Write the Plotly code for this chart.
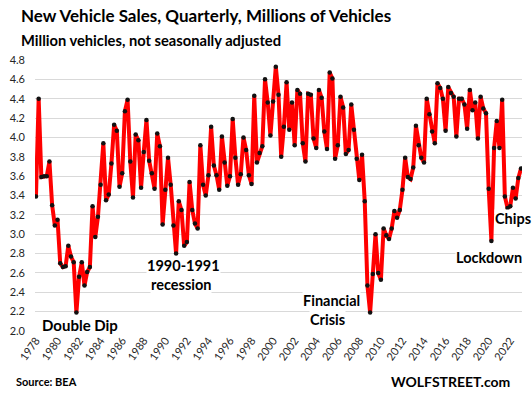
import plotly.graph_objects as go

start_year = 1978
sales = [
    3.39, 4.40, 3.59, 3.60, 3.60, 3.75, 3.30, 3.09, 3.15, 2.70,
    2.66, 2.67, 2.88, 2.77, 2.71, 2.19, 2.56, 2.71, 2.47, 2.61,
    2.66, 3.29, 2.97, 3.18, 3.51, 3.94, 3.35, 3.41, 3.73, 4.13,
    4.07, 3.49, 3.63, 4.27, 4.39, 3.75, 3.38, 4.03, 3.97, 3.48,
    3.85, 4.18, 3.76, 3.63, 3.47, 4.04, 3.91, 3.10, 3.46, 3.79,
    3.51, 3.09, 2.80, 3.34, 3.25, 2.88, 2.92, 3.54, 3.25, 3.11,
    3.06, 3.92, 3.51, 3.40, 3.61, 4.11, 3.71, 3.61, 3.46, 4.01,
    3.74, 3.50, 3.60, 4.19, 3.79, 3.51, 3.62, 4.00, 3.87, 3.61,
    3.52, 4.43, 3.74, 3.84, 3.91, 4.60, 4.36, 4.02, 4.37, 4.73,
    4.44, 3.80, 4.11, 4.57, 4.08, 4.36, 3.92, 4.49, 4.45, 3.94,
    3.75, 4.45, 4.44, 3.99, 3.89, 4.49, 4.41, 4.06, 3.88, 4.67,
    4.61, 3.78, 3.92, 4.42, 4.31, 3.83, 3.87, 4.34, 4.08, 3.78,
    3.56, 3.82, 3.34, 2.47, 2.19, 2.59, 3.00, 2.60, 2.53, 3.06,
    2.99, 2.95, 3.06, 3.24, 3.17, 3.25, 3.46, 3.79, 3.59, 3.57,
    3.69, 4.12, 3.92, 3.79, 3.74, 4.40, 4.24, 4.06, 3.94, 4.56,
    4.51, 4.40, 4.07, 4.52, 4.46, 4.42, 4.01, 4.40, 4.40, 4.34,
    4.09, 4.49, 4.28, 4.36, 3.99, 4.42, 4.30, 4.25, 3.47, 2.93,
    3.89, 4.17, 3.89, 4.39, 3.39, 3.27, 3.29, 3.48, 3.37, 3.58,
    3.68,
]
# quarter positions (year + quarter fraction)
periods = [start_year + i // 4 + (i % 4) / 4 for i in range(len(sales))]

x_tick_years = list(range(1978, 2024, 2))
y_ticks = [2.0, 2.2, 2.4, 2.6, 2.8, 3.0, 3.2, 3.4, 3.6, 3.8, 4.0, 4.2, 4.4, 4.6, 4.8]

title_text = "New Vehicle Sales, Quarterly, Millions of Vehicles"
subtitle_text = "Million vehicles, not seasonally adjusted"
source_text = "Source: BEA"
brand_text = "WOLFSTREET.com"

W, H = 532, 396
ML, MR, MT, MB = 30, 10, 60, 65
PW, PH = W - ML - MR, H - MT - MB

def px(x):
    return (x - ML) / PW

def py(y):
    return (H - MB - y) / PH

FONT = "Lato"

fig = go.Figure()
fig.add_trace(go.Scatter(
    x=periods, y=sales, mode="lines+markers",
    line=dict(color="#ff0000", width=4),
    marker=dict(color="#111111", size=4.5),
    hoverinfo="x+y",
))

annos = []
def add(text, x, y, size, xanchor="center", bg="white"):
    annos.append(dict(text=text, x=px(x), y=py(y), xref="paper", yref="paper",
                      xanchor=xanchor, yanchor="middle", showarrow=False,
                      font=dict(family=FONT, size=size, color="#000000"),
                      bgcolor=bg, borderpad=0))

add("<b>" + title_text + "</b>", 15, 16, 17, xanchor="left", bg="rgba(0,0,0,0)")
add("<b>" + subtitle_text + "</b>", 15, 40, 14.7, xanchor="left", bg="rgba(0,0,0,0)")
add("<b>Double Dip</b>", 75, 325, 15)
add("<b>1990-1991</b>", 180, 265, 14.5)
add("<b>recession</b>", 177, 284, 14.5)
add("<b>Financial</b>", 330, 300, 14.5)
add("<b>Crisis</b>", 326, 319, 14.5)
add("<b>Lockdown</b>", 489, 257, 14.5)
add("<b>Chips</b>", 513, 218, 14.5)
add("<b>" + source_text + "</b>", 10, 382, 11, xanchor="left", bg="rgba(0,0,0,0)")
add("<b>" + brand_text + "</b>", 511, 382, 14, xanchor="right", bg="rgba(0,0,0,0)")

fig.update_layout(
    width=W, height=H,
    margin=dict(l=ML, r=MR, t=MT, b=MB, pad=0),
    paper_bgcolor="white", plot_bgcolor="white",
    showlegend=False,
    font=dict(family=FONT, size=11, color="#333333"),
    annotations=annos,
    xaxis=dict(
        range=[start_year - 0.09, start_year + (len(sales) - 1) / 4 + 0.09],
        tickmode="array", tickvals=x_tick_years,
        ticktext=[str(y) for y in x_tick_years],
        tickangle=-55, showgrid=False, zeroline=False, showline=False,
        ticks="", tickfont=dict(size=11, color="#262626"),
    ),
    yaxis=dict(
        range=[2.0, 4.8], tickmode="array", tickvals=y_ticks,
        ticktext=[f"{v:.1f}" for v in y_ticks],
        showgrid=True, gridcolor="#d9d9d9", gridwidth=1,
        zeroline=False, showline=False, ticks="",
        ticklabelstandoff=9,
        tickfont=dict(size=11, color="#262626"),
    ),
)

fig.write_html(
    "out.html",
    config={"displayModeBar": False},
    post_script="document.body.style.margin='0';document.body.style.overflow='hidden';",
)
